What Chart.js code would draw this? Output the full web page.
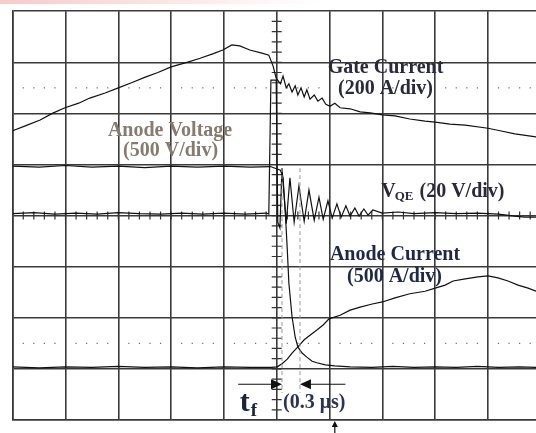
<!DOCTYPE html>
<html>
<head>
<meta charset="utf-8">
<script src="https://cdn.jsdelivr.net/npm/chart.js@4.4.1/dist/chart.umd.min.js"></script>
<style>
  html, body { margin: 0; padding: 0; background: #fff; overflow: hidden; }
  #scope { display: block; }
</style>
</head>
<body>
<canvas id="scope" width="536" height="433"></canvas>
<script>
// all values are in screen divisions (x: time div, y: vertical div from bottom)
const gateTime = [0, 0.25, 0.52, 0.75, 0.99, 1.25, 1.46, 1.75, 2.0, 2.25, 2.51, 2.75, 3.0, 3.3, 3.55, 3.8, 3.98, 4.15, 4.30, 4.49,
  4.72, 4.85, 4.93, 4.99, 5.07, 5.12, 5.18, 5.23, 5.29, 5.35, 5.40, 5.46, 5.52, 5.57, 5.63, 5.71, 5.78, 5.86, 5.93, 6.01,
  6.10, 6.20, 6.39, 6.58, 6.77, 7.0, 7.24, 7.52, 7.81, 8.0, 8.28, 8.57, 9.0, 9.23, 9.51, 9.91];
const gateCurrent = [5.66, 5.76, 5.87, 6.0, 6.11, 6.2, 6.30, 6.40, 6.50, 6.6, 6.71, 6.8, 6.91, 7.0, 7.08, 7.17, 7.24, 7.34, 7.32, 7.24,
  7.18, 7.14, 6.93, 6.69, 6.58, 6.73, 6.50, 6.58, 6.42, 6.54, 6.36, 6.50, 6.32, 6.46, 6.28, 6.36, 6.24, 6.30, 6.18, 6.14,
  6.20, 6.11, 6.09, 6.03, 6.01, 5.97, 5.95, 5.89, 5.85, 5.83, 5.79, 5.77, 5.71, 5.66, 5.60, 5.54];

const anodeITime = [0, 0.5, 1.0, 1.5, 2.0, 2.5, 3.0, 3.5, 4.0, 4.5, 4.88, 5.07, 5.12, 5.16, 5.20, 5.23, 5.29, 5.35, 5.40, 5.48,
  5.57, 5.67, 5.76, 5.92, 6.10, 6.39, 6.8, 7.2, 7.6, 8.0, 8.4, 8.8, 9.2, 9.6, 9.91];
const anodeCurrent = [4.97, 4.95, 4.98, 4.95, 4.97, 4.94, 4.97, 4.95, 4.97, 4.95, 4.96, 4.89, 4.74, 4.11, 3.33, 2.68, 2.02, 1.62, 1.43, 1.31,
  1.23, 1.15, 1.12, 1.08, 1.06, 1.04, 1.03, 1.05, 1.03, 1.04, 1.03, 1.05, 1.03, 1.04, 1.03];

const anodeVTime = [0, 0.5, 1.0, 1.5, 2.0, 2.5, 3.0, 3.5, 4.0, 4.5, 4.9, 5.01, 5.10, 5.20, 5.29, 5.40, 5.52, 5.63, 5.76, 5.88,
  5.99, 6.20, 6.39, 6.58, 6.81, 7.0, 7.24, 7.52, 7.81, 8.0, 8.19, 8.34, 8.57, 8.81, 9.0, 9.19, 9.38, 9.57, 9.76, 9.91];
const anodeVoltage = [1.04, 1.02, 1.04, 1.03, 1.05, 1.03, 1.04, 1.02, 1.04, 1.03, 1.03, 1.04, 1.10, 1.19, 1.31, 1.43, 1.57, 1.66, 1.76, 1.86,
  1.98, 2.05, 2.15, 2.21, 2.27, 2.31, 2.39, 2.47, 2.52, 2.58, 2.64, 2.72, 2.76, 2.80, 2.82, 2.78, 2.72, 2.64, 2.58, 2.52];

const vqeTime = [0, 0.4, 0.8, 1.2, 1.6, 2.0, 2.4, 2.8, 3.2, 3.6, 4.0, 4.4, 4.8, 4.85, 4.89, 4.99, 5.02, 5.06, 5.10, 5.18,
  5.25, 5.33, 5.42, 5.52, 5.61, 5.71, 5.80, 5.88, 5.97, 6.05, 6.14, 6.22, 6.31, 6.39, 6.48, 6.56, 6.65, 6.73, 6.82, 7.0,
  7.3, 7.6, 8.0, 8.4, 8.8, 9.2, 9.5, 9.7, 9.91];
const vqeVoltage = [4.04, 4.06, 4.03, 4.05, 4.03, 4.06, 4.04, 4.03, 4.05, 4.03, 4.05, 4.03, 4.05, 4.03, 6.65, 6.65, 3.87, 3.76, 4.93, 3.84,
  4.74, 3.87, 4.58, 3.89, 4.50, 3.91, 4.36, 3.93, 4.29, 3.95, 4.23, 3.97, 4.19, 3.99, 4.15, 3.99, 4.13, 4.01, 4.11, 4.05,
  4.07, 4.04, 4.06, 4.04, 4.05, 4.03, 3.99, 3.97, 3.97];

// dotted reference levels and the t_f markers (div)
const dotLevels = [6.5, 1.5];
const tfStart = 5.10;
const tfEnd = 5.44;

function pts(t, v) {
  return t.map((x, i) => ({ x: x, y: v[i] }));
}

function trace(label, t, v) {
  return {
    label: label,
    data: pts(t, v),
    borderColor: "#111",
    borderWidth: 1.2,
    pointRadius: 0,
    tension: 0,
    fill: false
  };
}

const serif = '"Liberation Serif", "Times New Roman", serif';

function text(ctx, str, x, y, size, color, align) {
  ctx.font = "bold " + size + "px " + serif;
  ctx.fillStyle = color;
  ctx.textAlign = align || "center";
  ctx.textBaseline = "middle";
  ctx.fillText(str, x, y);
}

function arrowHead(ctx, x, y, dir) {
  ctx.beginPath();
  ctx.moveTo(x, y);
  ctx.lineTo(x - dir * 11, y - 5);
  ctx.lineTo(x - dir * 11, y + 5);
  ctx.closePath();
  ctx.fill();
}

const scopeDecor = {
  id: "scopeDecor",
  beforeDraw(chart) {
    const ctx = chart.ctx;
    ctx.save();
    ctx.fillStyle = "#fff";
    ctx.fillRect(0, 0, chart.width, chart.height);
    const g = ctx.createLinearGradient(0, 0, 320, 0);
    g.addColorStop(0, "rgba(240,160,160,0.55)");
    g.addColorStop(1, "rgba(240,160,160,0)");
    ctx.fillStyle = g;
    ctx.fillRect(0, 0, 320, 4);
    ctx.restore();
  },
  beforeDatasetsDraw(chart) {
    const ctx = chart.ctx;
    const xs = chart.scales.x, ys = chart.scales.y;
    ctx.save();
    // dotted levels, four dots per division
    ctx.fillStyle = "#666";
    dotLevels.forEach(lv => {
      const py = ys.getPixelForValue(lv);
      for (let d = 0; d < 10; d++) {
        for (let j = 1; j <= 4; j++) {
          const px = xs.getPixelForValue(d + j * 0.2);
          if (px < chart.chartArea.right) ctx.fillRect(px - 0.6, py - 0.6, 1.2, 1.2);
        }
      }
    });
    // minor ticks on the centre cross
    ctx.strokeStyle = "#333";
    ctx.lineWidth = 1.2;
    const cx = xs.getPixelForValue(5), cy = ys.getPixelForValue(4);
    ctx.beginPath();
    for (let v = 0.2; v < 8; v += 0.2) {
      const py = ys.getPixelForValue(v);
      ctx.moveTo(cx - 5, py);
      ctx.lineTo(cx + 5, py);
    }
    for (let v = 0.2; v < 9.9; v += 0.2) {
      const px = xs.getPixelForValue(v);
      ctx.moveTo(px, cy - 4);
      ctx.lineTo(px, cy + 4);
    }
    ctx.stroke();
    ctx.restore();
  },
  afterDatasetsDraw(chart) {
    const ctx = chart.ctx;
    const xs = chart.scales.x, ys = chart.scales.y;
    const X = v => xs.getPixelForValue(v), Y = v => ys.getPixelForValue(v);
    ctx.save();

    // fall-time markers
    ctx.strokeStyle = "#999";
    ctx.lineWidth = 1;
    ctx.setLineDash([4, 3]);
    ctx.beginPath();
    [tfStart, tfEnd].forEach(t => {
      ctx.moveTo(X(t), Y(4.93));
      ctx.lineTo(X(t), Y(0.53));
    });
    ctx.stroke();
    ctx.setLineDash([]);

    ctx.strokeStyle = "#111";
    ctx.fillStyle = "#111";
    ctx.lineWidth = 1.2;
    const ay = Y(0.70);
    ctx.beginPath();
    ctx.moveTo(X(4.27), ay);
    ctx.lineTo(X(tfStart) - 8, ay);
    ctx.moveTo(X(6.30), ay);
    ctx.lineTo(X(tfEnd) + 8, ay);
    ctx.stroke();
    arrowHead(ctx, X(tfStart), ay, 1);
    arrowHead(ctx, X(tfEnd), ay, -1);

    // little pointer under the frame
    const ux = X(6.10), uy = chart.chartArea.bottom + 1;
    ctx.beginPath();
    ctx.moveTo(ux, uy + 3);
    ctx.lineTo(ux, chart.height);
    ctx.stroke();
    ctx.beginPath();
    ctx.moveTo(ux, uy);
    ctx.lineTo(ux - 3, uy + 6);
    ctx.lineTo(ux + 3, uy + 6);
    ctx.closePath();
    ctx.fill();

    // labels
    const dark = "#2a2a3c";
    text(ctx, "Gate Current", X(7.06), Y(6.89), 20, dark);
    text(ctx, "(200 A/div)", X(7.06), Y(6.48), 20, dark);
    text(ctx, "Anode Voltage", X(2.98), Y(5.66), 20, "#857b70");
    text(ctx, "(500 V/div)", X(2.99), Y(5.27), 20, "#857b70");

    const vx = X(6.98), vy = Y(4.46);
    text(ctx, "V", vx, vy, 20, dark, "left");
    let w = ctx.measureText("V").width;
    text(ctx, "QE", vx + w - 1, vy + 5, 13, dark, "left");
    w += ctx.measureText("QE").width;
    text(ctx, " (20 V/div)", vx + w, vy, 20, dark, "left");

    text(ctx, "Anode Current", X(7.24), Y(3.23), 20, "#1f2844");
    text(ctx, "(500 A/div)", X(7.23), Y(2.80), 20, "#1f2844");

    const tx = X(4.30), ty = Y(0.33);
    text(ctx, "t", tx, ty, 30, "#1b2240", "left");
    const tw = ctx.measureText("t").width;
    text(ctx, "f", tx + tw + 1, ty + 8, 19, "#1b2240", "left");
    text(ctx, "(0.3 \u03bcs)", X(5.12), Y(0.33), 20, "#2a3356", "left");

    ctx.restore();
  }
};

const gridStyle = { color: "#3a3a3a", lineWidth: 1.6, drawTicks: false };
const borderStyle = { display: true, color: "#3a3a3a", width: 1.6 };

new Chart(document.getElementById("scope"), {
  type: "line",
  data: {
    datasets: [
      trace("Gate Current", gateTime, gateCurrent),
      trace("Anode Current", anodeITime, anodeCurrent),
      trace("Anode Voltage", anodeVTime, anodeVoltage),
      trace("VQE", vqeTime, vqeVoltage)
    ]
  },
  options: {
    responsive: false,
    animation: false,
    layout: { padding: { left: 12.7, top: 11.2, right: 0, bottom: 13 } },
    plugins: { legend: { display: false }, tooltip: { enabled: false } },
    scales: {
      x: {
        type: "linear",
        min: 0,
        max: 9.91,
        ticks: { display: false, stepSize: 1, includeBounds: false },
        grid: gridStyle,
        border: borderStyle
      },
      y: {
        type: "linear",
        min: 0,
        max: 8,
        ticks: { display: false, stepSize: 1 },
        grid: gridStyle,
        border: borderStyle
      }
    }
  },
  plugins: [scopeDecor]
});
</script>
</body>
</html>
